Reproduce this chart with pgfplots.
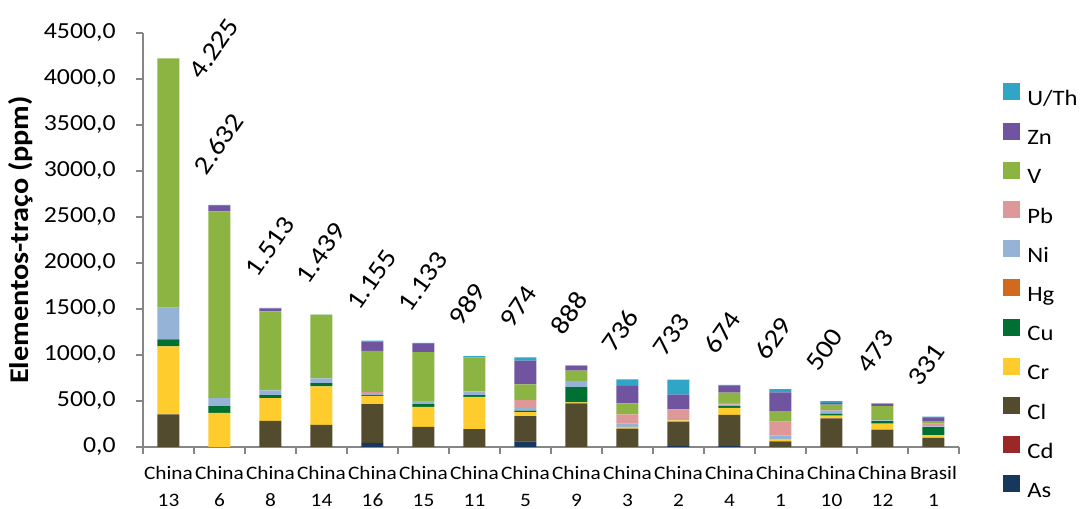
\documentclass[border=0pt]{standalone}
\usepackage{pgfplots}
\usepackage{pgfplotstable}
\pgfplotsset{compat=1.18}
\usepackage{fontspec}
\setmainfont{Carlito}[FakeStretch=1.12]

\definecolor{cAs}{RGB}{23,55,94}
\definecolor{cCd}{RGB}{155,40,40}
\definecolor{cCl}{RGB}{82,75,45}
\definecolor{cCr}{RGB}{255,204,45}
\definecolor{cCu}{RGB}{0,112,50}
\definecolor{cHg}{RGB}{210,105,30}
\definecolor{cNi}{RGB}{149,179,215}
\definecolor{cPb}{RGB}{222,152,152}
\definecolor{cV}{RGB}{140,180,66}
\definecolor{cZn}{RGB}{112,84,160}
\definecolor{cU}{RGB}{49,165,198}
\definecolor{axisgray}{RGB}{134,134,134}

\pgfplotstableread{
x  As Cd Cl  Cr  Cu  Hg Ni  Pb  V    Zn  U   lab
0  0  0  355 740 75  0  345 0   2710 0   0   {}
1  0  0  0   370 75  0  85  0   2030 60  12  2.632
2  0  0  285 245 35  0  50  0   860  33  5   1.513
3  0  0  240 420 35  0  50  0   693  0   1   1.439
4  45 0  420 90  10  0  20  15  445  100 10  1.155
5  0  0  220 215 30  0  35  0   530  90  13  1.133
6  0  0  195 350 20  0  40  0   370  0   14  989
7  60 0  275 45  15  0  30  85  170  260 34  974
8  0  0  475 10  165 0  70  0   110  55  3   888
9  0  0  200 20  0   0  35  100 120  190 71  736
10 10 0  265 15  0   0  15  105 0    160 163 733
11 10 0  340 75  20  0  15  20  110  80  4   674
12 0  0  60  25  0   0  40  150 115  205 34  629
13 0  0  310 30  20  0  35  5   60   20  20  500
14 0  0  190 65  25  0  10  0   155  23  5   473
15 0  0  100 30  85  0  10  30  20   40  16  331
}\data

\begin{document}
\begin{tikzpicture}
\path[use as bounding box] (-71.5pt,-31pt) rectangle (470pt,223.5pt);
\begin{axis}[
  at={(0,0)}, anchor=south west,
  scale only axis, width=408pt, height=207pt,
  clip=false,
  ybar stacked, bar width=11pt,
  xmin=-0.5, xmax=15.5, ymin=0, ymax=4500,
  axis x line*=bottom, axis y line*=left,
  axis line style={draw=axisgray, line width=0.8pt, -},
  tick style={draw=axisgray, line width=0.8pt},
  tick align=outside, major tick length=3.5pt,
  xtick={-0.5,0.5,...,15.5},
  xticklabels={{China\\13},{China\\6},{China\\8},{China\\14},{China\\16},{China\\15},{China\\11},{China\\5},{China\\9},{China\\3},{China\\2},{China\\4},{China\\1},{China\\10},{China\\12},{Brasil\\1},{}},
  xticklabel style={align=center, font=\fontsize{9.5}{13.5}\selectfont, xshift=12.75pt, inner sep=0pt, yshift=-6pt},
  ytick={0,500,...,4500},
  yticklabel style={font=\fontsize{11.5}{13}\selectfont, inner sep=0pt, xshift=-10pt,
    /pgf/number format/.cd, fixed, fixed zerofill, precision=1, use comma, 1000 sep={}, assume math mode=true},
  ylabel={\bfseries Elementos-traço (ppm)},
  ylabel style={at={(axis description cs:-0.1495,0.5)}, rotate=0, anchor=center, font=\fontsize{13.5}{15}\selectfont},
  legend style={at={(1,1)}, anchor=north west, xshift=22pt, yshift=-25pt, draw=none, fill=none,
    inner sep=0pt, row sep=6.6pt, column sep=3.5pt, font=\fontsize{11}{13}\selectfont,
    nodes={inner sep=0pt, text height=8pt, text depth=2pt}},
  legend cell align=left,
  reverse legend,
  legend image code/.code={\fill[#1] (0pt,-0.5pt) rectangle (8.5pt,8pt);},
]
\addplot[fill=cAs, draw=none] table[x=x, y=As] {\data};
\addplot[fill=cCd, draw=none] table[x=x, y=Cd] {\data};
\addplot[fill=cCl, draw=none] table[x=x, y=Cl] {\data};
\addplot[fill=cCr, draw=none] table[x=x, y=Cr] {\data};
\addplot[fill=cCu, draw=none] table[x=x, y=Cu] {\data};
\addplot[fill=cHg, draw=none] table[x=x, y=Hg] {\data};
\addplot[fill=cNi, draw=none] table[x=x, y=Ni] {\data};
\addplot[fill=cPb, draw=none] table[x=x, y=Pb] {\data};
\addplot[fill=cV, draw=none] table[x=x, y=V] {\data};
\addplot[fill=cZn, draw=none] table[x=x, y=Zn] {\data};
\addplot[fill=cU, draw=none, nodes near coords, point meta=explicit symbolic,
  every node near coord/.append style={font=\fontsize{13}{15}\selectfont, inner sep=0pt,
    xshift=-10pt, yshift=17pt, rotate=55, anchor=west, text=black}]
  table[x=x, y=U, meta=lab] {\data};
\legend{As,Cd,Cl,Cr,Cu,Hg,Ni,Pb,V,Zn,U/Th}
\node[font=\fontsize{13}{15}\selectfont, inner sep=0pt, xshift=13pt, yshift=-9pt, rotate=55, anchor=west] at (axis cs:0,4225) {4.225};
\end{axis}
\end{tikzpicture}
\end{document}
